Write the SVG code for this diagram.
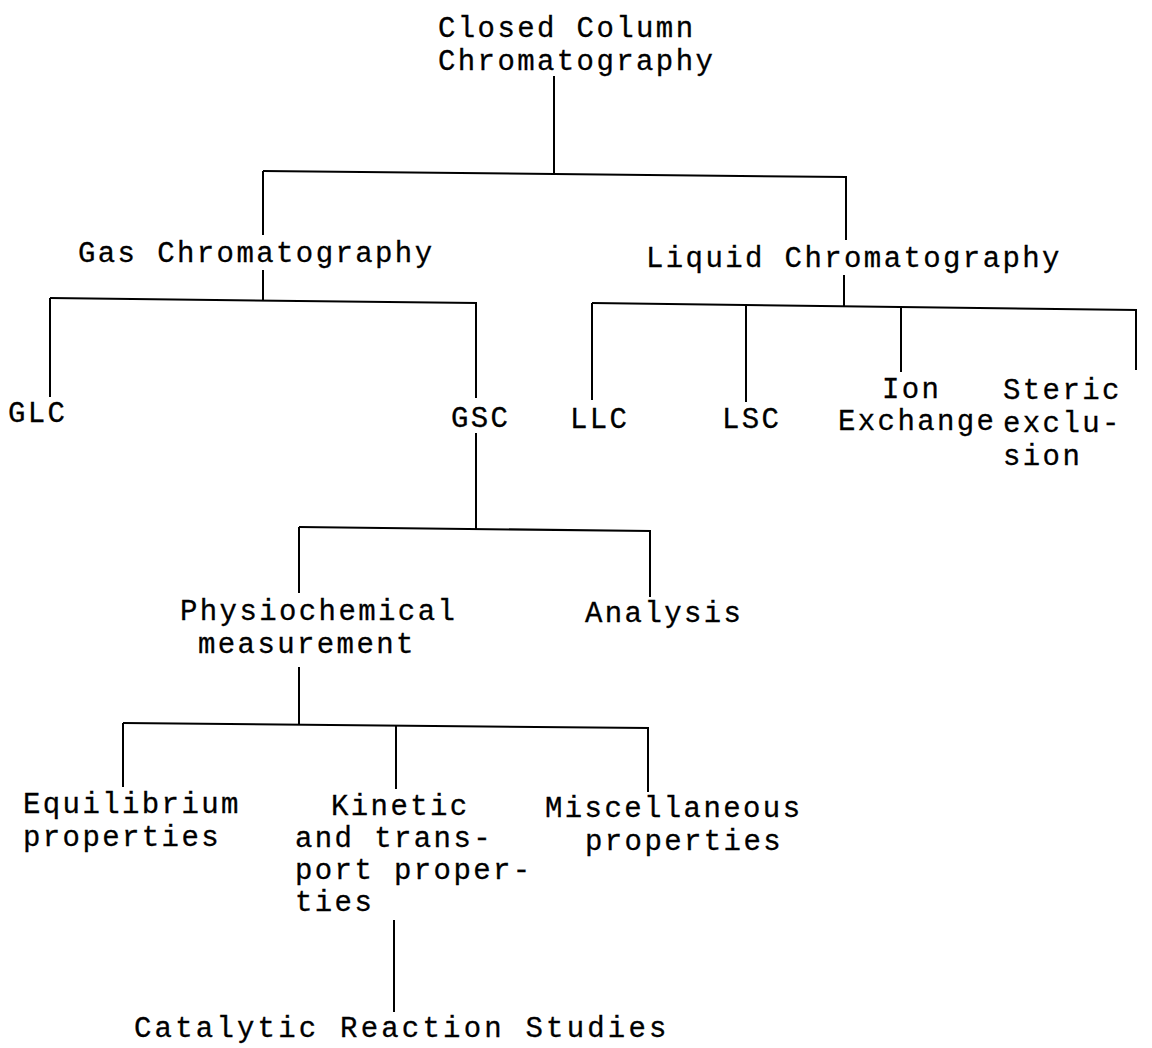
<svg xmlns="http://www.w3.org/2000/svg" width="1152" height="1048" viewBox="0 0 1152 1048">
<style>
text{font-family:"Liberation Mono","Courier New",monospace;font-size:29px;letter-spacing:2.4px;fill:#000;stroke:#000;stroke-width:0.3}
.c line{stroke:#000;stroke-width:2;fill:none}
</style>
<rect width="1152" height="1048" fill="#fff"/>
<g class="c" id="connectors">
<line x1="554" y1="76" x2="554" y2="174"/>
<line x1="263" y1="171" x2="847" y2="177"/>
<line x1="263" y1="171" x2="263" y2="235"/>
<line x1="846" y1="177" x2="846" y2="240"/>
<line x1="263" y1="270" x2="263" y2="300"/>
<line x1="50" y1="298" x2="477" y2="303"/>
<line x1="50" y1="298" x2="50" y2="397"/>
<line x1="476" y1="303" x2="476" y2="398"/>
<line x1="844" y1="275" x2="844" y2="306"/>
<line x1="592" y1="303" x2="1137" y2="310"/>
<line x1="592" y1="303" x2="592" y2="400"/>
<line x1="746" y1="305" x2="746" y2="402"/>
<line x1="901" y1="307" x2="901" y2="372"/>
<line x1="1136" y1="310" x2="1136" y2="370"/>
<line x1="476" y1="433" x2="476" y2="529"/>
<line x1="299" y1="527" x2="651" y2="531"/>
<line x1="299" y1="527" x2="299" y2="593"/>
<line x1="650" y1="531" x2="650" y2="597"/>
<line x1="299" y1="667" x2="299" y2="724"/>
<line x1="123" y1="723" x2="649" y2="728"/>
<line x1="123" y1="723" x2="123" y2="787"/>
<line x1="396" y1="725" x2="396" y2="789"/>
<line x1="648" y1="728" x2="648" y2="792"/>
<line x1="394" y1="920" x2="394" y2="1012"/>
</g>
<g id="n-root"><text x="438" y="37">Closed Column</text><text x="438" y="70">Chromatography</text></g>
<g id="n-gas"><text x="78" y="262">Gas Chromatography</text></g>
<g id="n-liquid"><text x="646" y="267">Liquid Chromatography</text></g>
<g id="n-glc"><text x="8" y="422">GLC</text></g>
<g id="n-gsc"><text x="451" y="427">GSC</text></g>
<g id="n-llc"><text x="570" y="428">LLC</text></g>
<g id="n-lsc"><text x="722" y="428">LSC</text></g>
<g id="n-ion"><text x="882" y="398">Ion</text><text x="838" y="430">Exchange</text></g>
<g id="n-steric"><text x="1003" y="399">Steric</text><text x="1003" y="432">exclu-</text><text x="1003" y="465">sion</text></g>
<g id="n-phys"><text x="180" y="620">Physiochemical</text><text x="198" y="653">measurement</text></g>
<g id="n-analysis"><text x="585" y="622">Analysis</text></g>
<g id="n-equil"><text x="23" y="813">Equilibrium</text><text x="23" y="846">properties</text></g>
<g id="n-kinetic"><text x="331" y="815">Kinetic</text><text x="295" y="847">and trans-</text><text x="295" y="879">port proper-</text><text x="295" y="911">ties</text></g>
<g id="n-misc"><text x="545" y="817">Miscellaneous</text><text x="585" y="850">properties</text></g>
<g id="n-cat"><text x="134" y="1037" style="letter-spacing:3.2px">Catalytic Reaction Studies</text></g>
</svg>
